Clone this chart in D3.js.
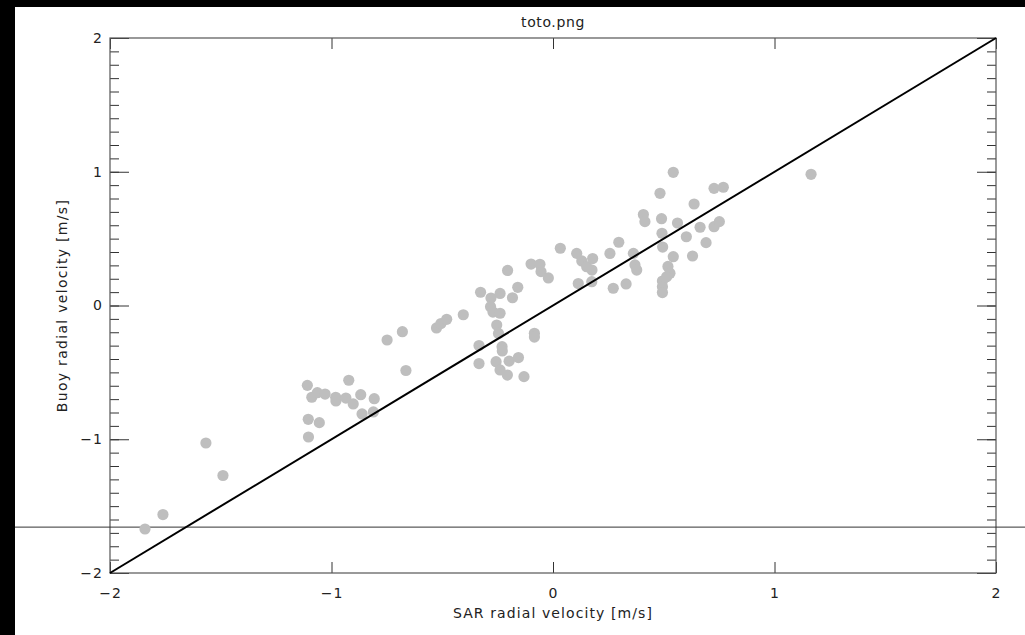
<!DOCTYPE html>
<html>
<head>
<meta charset="utf-8">
<script src="https://cdn.jsdelivr.net/npm/d3@7/dist/d3.min.js"></script>
<style>
  html, body { margin: 0; padding: 0; background: #000; }
  svg { display: block; }
  text { font-family: "DejaVu Sans", "Liberation Sans", sans-serif; fill: #222; }
</style>
</head>
<body>
<svg id="chart" width="1025" height="635"></svg>
<script>
// SAR-derived radial velocity (m/s) for each collocation
const sarVelocity = [
  -1.842, -1.761, -1.567, -1.490,
  -1.109, -1.089, -1.105, -1.104, -1.064, -1.055, -1.029, -0.981, -0.980, -0.935,
  -0.922, -0.902, -0.868, -0.862, -0.807, -0.811, -0.749, -0.680, -0.664,
  -0.526, -0.506, -0.480, -0.405, -0.327, -0.334, -0.334, -0.280, -0.282, -0.271,
  -0.239, -0.239, -0.254, -0.246, -0.230, -0.229, -0.257, -0.239, -0.206, -0.198,
  -0.156, -0.131, -0.205, -0.159, -0.183, -0.084, -0.084, -0.099, -0.059, -0.054,
  -0.021, 0.033, 0.107, 0.130, 0.152, 0.176, 0.179, 0.114, 0.175, 0.257, 0.297,
  0.272, 0.330, 0.363, 0.370, 0.378, 0.408, 0.415, 0.483, 0.490, 0.492, 0.495,
  0.494, 0.494, 0.494, 0.543, 0.562, 0.543, 0.519, 0.528, 0.513, 0.602, 0.630,
  0.637, 0.664, 0.691, 0.727, 0.769, 0.727, 0.751, 1.165
];
// Buoy-measured radial velocity (m/s), same order
const buoyVelocity = [
  -1.671, -1.563, -1.028, -1.271,
  -0.597, -0.686, -0.851, -0.983, -0.652, -0.876, -0.662, -0.686, -0.714, -0.692,
  -0.559, -0.736, -0.667, -0.811, -0.697, -0.796, -0.258, -0.196, -0.486,
  -0.168, -0.135, -0.103, -0.069, 0.099, -0.299, -0.434, 0.056, -0.009, -0.049,
  0.090, -0.058, -0.146, -0.209, -0.308, -0.340, -0.420, -0.482, -0.520, -0.416,
  -0.389, -0.532, 0.262, 0.136, 0.058, -0.208, -0.236, 0.310, 0.308, 0.253,
  0.206, 0.428, 0.390, 0.333, 0.290, 0.265, 0.351, 0.164, 0.178, 0.389, 0.473,
  0.129, 0.161, 0.390, 0.303, 0.265, 0.680, 0.627, 0.839, 0.649, 0.540, 0.437,
  0.183, 0.141, 0.097, 0.996, 0.617, 0.365, 0.292, 0.241, 0.215, 0.514, 0.370,
  0.759, 0.585, 0.470, 0.876, 0.884, 0.589, 0.627, 0.981
];

const xTicks = [-2, -1, 0, 1, 2];
const yTicks = [-2, -1, 0, 1, 2];
const yMinorTicks = d3.range(-20, 21).map(d => d / 10);
const axisRange = [-2, 2];
const referenceLevel = -1.657;   // horizontal guide across the frame

const titleText = "toto.png";
const xTitle = "SAR radial velocity [m/s]";
const yTitle = "Buoy radial velocity [m/s]";

const svg = d3.select("#chart");
const W = 1025, H = 635;
const plot = { left: 110, right: 996, top: 38, bottom: 573 };

// Page: white canvas with black strip on the left and top
svg.append("rect").attr("width", W).attr("height", H).attr("fill", "#000");
svg.append("rect").attr("x", 15).attr("y", 7).attr("width", W - 15).attr("height", H - 7).attr("fill", "#fff");

const x = d3.scaleLinear().domain(axisRange).range([plot.left, plot.right]);
const y = d3.scaleLinear().domain(axisRange).range([plot.bottom, plot.top]);

const fmt = d3.format("d");

// Left axis: minor and major ticks in separate groups (pointing inward)
svg.append("g").attr("transform", `translate(${plot.left},0)`)
  .call(d3.axisLeft(y).tickValues(yMinorTicks).tickSize(-9).tickFormat(""));
svg.append("g").attr("transform", `translate(${plot.left},0)`)
  .call(d3.axisLeft(y).tickValues(yTicks).tickSize(-19).tickPadding(7).tickFormat(fmt));

// Right axis
svg.append("g").attr("transform", `translate(${plot.right},0)`)
  .call(d3.axisRight(y).tickValues(yMinorTicks).tickSize(-9).tickFormat(""));
svg.append("g").attr("transform", `translate(${plot.right},0)`)
  .call(d3.axisRight(y).tickValues(yTicks).tickSize(-19).tickFormat(""));

// Bottom axis
svg.append("g").attr("transform", `translate(0,${plot.bottom})`)
  .call(d3.axisBottom(x).tickValues(xTicks).tickSize(-11).tickPadding(15).tickFormat(fmt));

// Top axis
svg.append("g").attr("transform", `translate(0,${plot.top})`)
  .call(d3.axisTop(x).tickValues(xTicks).tickSize(-11).tickFormat(""));

svg.selectAll(".domain").remove();
svg.selectAll(".tick line").attr("stroke", "#333").attr("stroke-width", 1);
svg.selectAll(".tick text").attr("font-size", 14).attr("fill", "#222")
  .style("font-family", "DejaVu Sans, sans-serif").style("letter-spacing", "1px");

// Frame
svg.append("rect")
  .attr("x", plot.left).attr("y", plot.top)
  .attr("width", plot.right - plot.left).attr("height", plot.bottom - plot.top)
  .attr("fill", "none").attr("stroke", "#555").attr("stroke-width", 1.2);

// Horizontal guide spanning the page width
svg.append("line")
  .attr("x1", 15).attr("x2", W)
  .attr("y1", y(referenceLevel)).attr("y2", y(referenceLevel))
  .attr("stroke", "#333").attr("stroke-width", 1);

// Scatter points
const pts = sarVelocity.map((v, i) => ({ sar: v, buoy: buoyVelocity[i] }));
svg.append("g").selectAll("circle").data(pts).join("circle")
  .attr("cx", d => x(d.sar)).attr("cy", d => y(d.buoy))
  .attr("r", 5.6).attr("fill", "#bebebe");

// 1:1 line
svg.append("line")
  .attr("x1", x(axisRange[0])).attr("y1", y(axisRange[0]))
  .attr("x2", x(axisRange[1])).attr("y2", y(axisRange[1]))
  .attr("stroke", "#000").attr("stroke-width", 2);

// Titles
svg.append("text").attr("x", (plot.left + plot.right) / 2).attr("y", 27)
  .attr("text-anchor", "middle").attr("font-size", 14)
  .style("letter-spacing", "0.6px").text(titleText);
svg.append("text").attr("x", (plot.left + plot.right) / 2).attr("y", 618)
  .attr("text-anchor", "middle").attr("font-size", 14)
  .style("letter-spacing", "1.1px").text(xTitle);
svg.append("text")
  .attr("transform", `translate(67,${(plot.top + plot.bottom) / 2}) rotate(-90)`)
  .attr("text-anchor", "middle").attr("font-size", 14)
  .style("letter-spacing", "1.3px").text(yTitle);
</script>
</body>
</html>
